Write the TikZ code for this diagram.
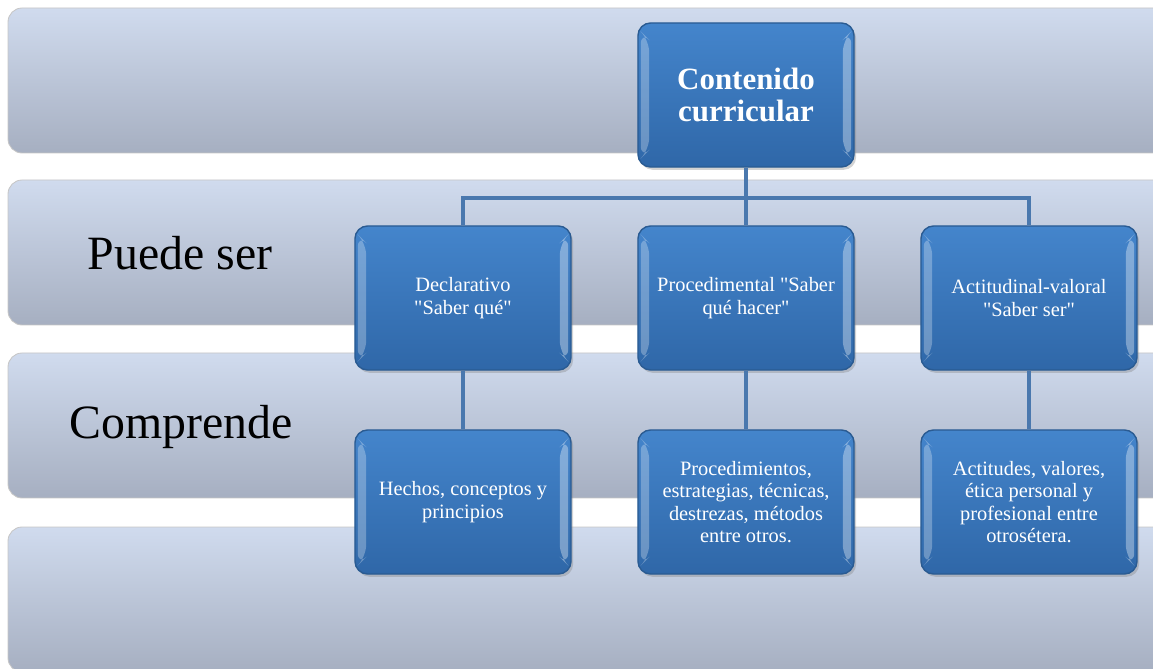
\documentclass[tikz,border=0pt]{standalone}
\usepackage{fontspec}
\setmainfont{Liberation Serif}[Ligatures=TeXOff]
\usetikzlibrary{shadows}

\definecolor{bandtop}{HTML}{D0DBEE}
\definecolor{bandbot}{HTML}{A6AFC1}
\definecolor{boxtop}{HTML}{4485CC}
\definecolor{boxbot}{HTML}{2F67A8}
\definecolor{boxline}{HTML}{2A5B92}
\definecolor{linkblue}{HTML}{4A78AE}

\tikzset{
    band/.style={rounded corners=10pt, top color=bandtop, bottom color=bandbot, draw=gray!45, line width=0.6pt},
    card/.style={rounded corners=9pt, top color=boxtop, bottom color=boxbot, draw=boxline, line width=1pt,
        minimum width=5.4cm, minimum height=3.6cm, text=white, align=center,
        font=\fontsize{14.5}{16}\selectfont,
        drop shadow={opacity=0.35, shadow xshift=1.5pt, shadow yshift=-2pt},
        path picture={
            % bevel highlights on the sides
            \fill[white, opacity=0.28]
                ([xshift=2pt, yshift=-6pt]path picture bounding box.north west) --
                ([xshift=8pt, yshift=-12pt]path picture bounding box.north west) --
                ([xshift=8pt, yshift=12pt]path picture bounding box.south west) --
                ([xshift=2pt, yshift=6pt]path picture bounding box.south west) -- cycle;
            \fill[white, opacity=0.35]
                ([xshift=-2pt, yshift=-6pt]path picture bounding box.north east) --
                ([xshift=-8pt, yshift=-12pt]path picture bounding box.north east) --
                ([xshift=-8pt, yshift=12pt]path picture bounding box.south east) --
                ([xshift=-2pt, yshift=6pt]path picture bounding box.south east) -- cycle;
        }},
    link/.style={linkblue, line width=3.5pt},
    side/.style={font=\fontsize{34}{36}\selectfont}
}

\begin{document}
\begin{tikzpicture}[x=0.025cm, y=-0.025cm]
    % page in pixel units
    \useasboundingbox (0,0) rectangle (1153,669);

    % Background bands
    \foreach \t in {8,180,353,527} {
        \path[band] (8,\t) rectangle (1175,\t+145);
    }

    % Row labels
    \node[side] (puede) at (180,253) {Puede ser};
    \node[side] (compr) at (181,427) {Comprende};

    % Boxes
    \node[card, font=\bfseries\fontsize{22}{23}\selectfont] (top) at (746,95) {Contenido\\curricular};

    \node[card] (decl) at (463,298) {Declarativo\\"Saber qué"};
    \node[card] (proc) at (746,298) {Procedimental "Saber\\qué hacer"};
    \node[card] (acti) at (1029,298) {Actitudinal-valoral\\"Saber ser"};

    \node[card] (hech) at (463,502) {Hechos, conceptos y\\principios};
    \node[card] (estr) at (746,502) {Procedimientos,\\estrategias, técnicas,\\destrezas, métodos\\entre otros.};
    \node[card] (acts) at (1029,502) {Actitudes, valores,\\ética personal y\\profesional entre\\otrosétera.};

    % Connectors
    \coordinate (bar) at (746,198);
    \draw[link] (top.south) -- (bar);
    \draw[link] (decl.north) |- (bar) -| (acti.north);
    \draw[link] (bar) -- (proc.north);
    \foreach \a/\b in {decl/hech, proc/estr, acti/acts} {
        \draw[link] (\a.south) -- (\b.north);
    }
\end{tikzpicture}
\end{document}
